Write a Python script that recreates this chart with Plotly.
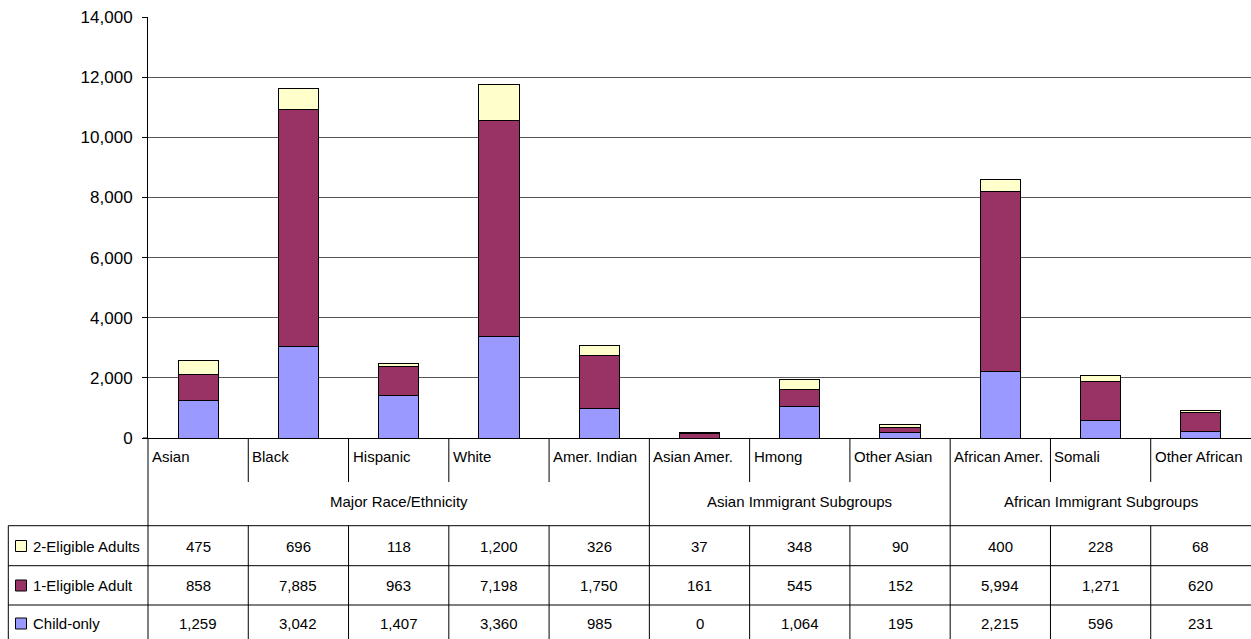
import plotly.graph_objects as go

# ---------------- data ----------------
categories = ["Asian", "Black", "Hispanic", "White", "Amer. Indian",
              "Asian Amer.", "Hmong", "Other Asian",
              "African Amer.", "Somali", "Other African"]
groups = ["Major Race/Ethnicity", "Asian Immigrant Subgroups", "African Immigrant Subgroups"]
group_sizes = [5, 3, 3]
series_names = ["2-Eligible Adults", "1-Eligible Adult", "Child-only"]
two_eligible = [475, 696, 118, 1200, 326, 37, 348, 90, 400, 228, 68]
one_eligible = [858, 7885, 963, 7198, 1750, 161, 545, 152, 5994, 1271, 620]
child_only = [1259, 3042, 1407, 3360, 985, 0, 1064, 195, 2215, 596, 231]
y_ticks = [0, 2000, 4000, 6000, 8000, 10000, 12000, 14000]

# ---------------- styling ----------------
C_CHILD = "#9999FF"
C_ONE = "#993366"
C_TWO = "#FFFFCC"
NARROW = "Liberation Sans, Arial, sans-serif"
NSIZE = 15
REG = "Liberation Sans, Arial, sans-serif"
W, H = 1251, 639
L, T, B = 148, 17, 201
PW = W - L
PH = H - T - B
BOTTOM = H - B  # pixel of plot bottom

def py(p):  # pixel y -> paper y
    return (BOTTOM - p) / PH

def px(p):  # pixel x -> paper x
    return (p - L) / PW

n = len(categories)
x = list(range(n))

fig = go.Figure()
for name, vals, col in [("Child-only", child_only, C_CHILD),
                        ("1-Eligible Adult", one_eligible, C_ONE),
                        ("2-Eligible Adults", two_eligible, C_TWO)]:
    fig.add_trace(go.Bar(x=x, y=vals, name=name, width=0.4,
                         marker=dict(color=col, line=dict(color="black", width=1))))

shapes = []
ann = []
LINE = dict(color="black", width=1)
GRID_COLOR = "#555555"

# category separators & group boundaries
bounds = []
acc = 0
for s in group_sizes:
    acc += s
    bounds.append(acc)
TABLE_TOP, ROW2, ROW3, TABLE_BOT = 525.7, 565.7, 605, 645
for k in range(1, n):
    xp = k / n
    if k in bounds:
        shapes.append(dict(type="line", xref="paper", yref="paper", x0=xp, x1=xp,
                           y0=0, y1=py(TABLE_BOT), line=LINE))
    else:
        shapes.append(dict(type="line", xref="paper", yref="paper", x0=xp, x1=xp,
                           y0=0, y1=py(482), line=LINE))
        shapes.append(dict(type="line", xref="paper", yref="paper", x0=xp, x1=xp,
                           y0=py(TABLE_TOP), y1=py(TABLE_BOT), line=LINE))
# left line continuing down
shapes.append(dict(type="line", xref="paper", yref="paper", x0=0, x1=0,
                   y0=0, y1=py(TABLE_BOT), line=LINE))
# x-axis line extension to the left (0 tick)
shapes.append(dict(type="line", xref="paper", yref="paper", x0=px(143), x1=0,
                   y0=0, y1=0, line=LINE))
# table left border
shapes.append(dict(type="line", xref="paper", yref="paper", x0=px(8.3), x1=px(8.3),
                   y0=py(TABLE_TOP), y1=py(TABLE_BOT), line=LINE))
# table horizontal lines
for yy in [TABLE_TOP, ROW2, ROW3]:
    shapes.append(dict(type="line", xref="paper", yref="paper", x0=px(8.3), x1=1,
                       y0=py(yy), y1=py(yy), line=LINE))

# category labels
for i, c in enumerate(categories):
    ann.append(dict(text=c, xref="paper", yref="paper", x=i / n, y=py(457),
                    xanchor="left", yanchor="middle", xshift=2, showarrow=False,
                    font=dict(family=NARROW, size=NSIZE, color="black")))
# group labels
start = 0
for g, s in zip(groups, group_sizes):
    ann.append(dict(text=g, xref="paper", yref="paper", x=(start + s / 2) / n, y=py(501),
                    xanchor="center", yanchor="middle", showarrow=False,
                    font=dict(family=NARROW, size=NSIZE, color="black")))
    start += s

# table
row_centers = [546, 585.5, 623.5]
row_vals = [two_eligible, one_eligible, child_only]
row_cols = [C_TWO, C_ONE, C_CHILD]
for rc, name, vals, col in zip(row_centers, series_names, row_vals, row_cols):
    shapes.append(dict(type="rect", xref="paper", yref="paper",
                       x0=px(15.5), x1=px(26.5), y0=py(rc + 5.5), y1=py(rc - 5.5),
                       fillcolor=col, line=LINE))
    ann.append(dict(text=name, xref="paper", yref="paper", x=px(31), y=py(rc),
                    xanchor="left", yanchor="middle", showarrow=False,
                    font=dict(family=NARROW, size=NSIZE, color="black")))
    for i, v in enumerate(vals):
        ann.append(dict(text=f"{v:,}", xref="paper", yref="paper", x=(i + 0.5) / n, y=py(rc),
                        xanchor="center", yanchor="middle", showarrow=False,
                        font=dict(family=NARROW, size=NSIZE, color="black")))

fig.update_layout(
    width=W, height=H,
    margin=dict(l=L, r=0, t=T, b=B, pad=0),
    paper_bgcolor="white", plot_bgcolor="white",
    barmode="stack", bargap=0.6, showlegend=False,
    shapes=shapes, annotations=ann,
    xaxis=dict(range=[-0.5, n - 0.5], showticklabels=False, showgrid=False,
               zeroline=False, showline=True, linecolor="black", linewidth=1,
               ticks="", fixedrange=True),
    yaxis=dict(range=[0, 14000], tickvals=y_ticks, tickformat=",d",
               showgrid=True, gridcolor=GRID_COLOR, gridwidth=1,
               zeroline=False, showline=True, linecolor="black", linewidth=1,
               ticks="outside", ticklen=5, tickcolor="black",
               tickfont=dict(family=REG, size=17, color="black"),
               ticklabelstandoff=6, fixedrange=True),
)

fig.write_html("out.html")
